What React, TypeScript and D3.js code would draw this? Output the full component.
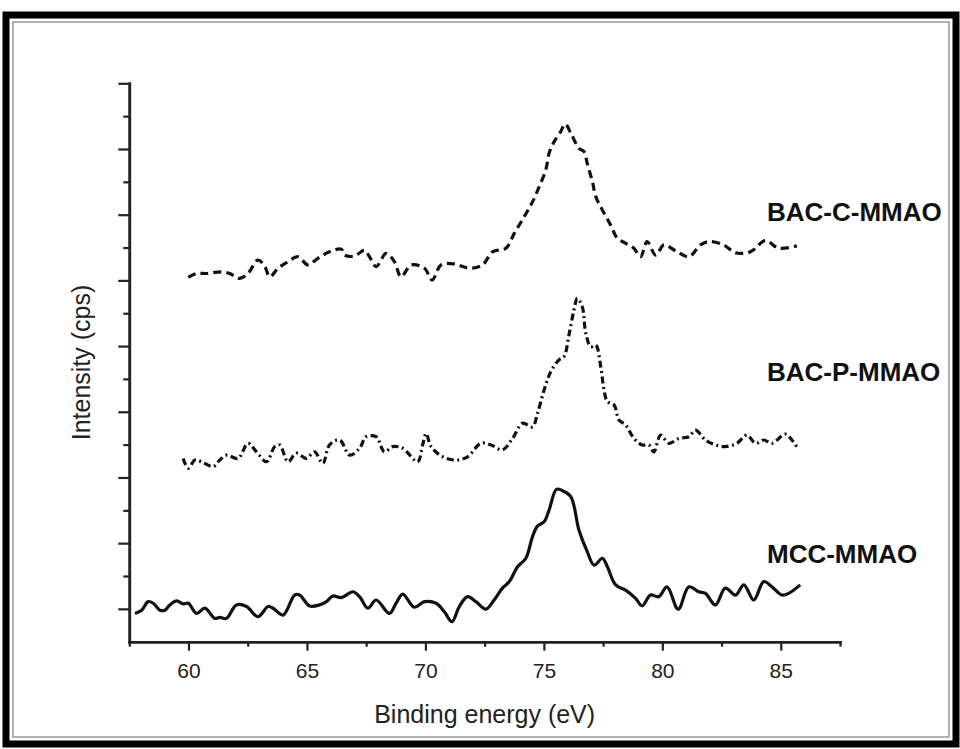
import React, { useEffect, useRef } from "react";
import * as d3 from "d3";

// binding energy (eV) / intensity (arb. units, stacked offsets)
const mccEnergy = [57.74, 58.02, 58.3, 58.51, 58.79, 59.0, 59.21, 59.5, 59.77, 59.99, 60.34, 60.69, 61.11, 61.32, 61.6, 62.02, 62.45, 62.93, 63.36, 63.57, 63.99, 64.48, 64.69, 65.11, 65.53, 65.82, 66.09, 66.45, 66.94, 67.22, 67.57, 67.92, 68.48, 68.76, 69.04, 69.53, 69.96, 70.45, 70.8, 71.12, 71.43, 71.78, 72.13, 72.55, 72.9, 73.25, 73.54, 73.89, 74.24, 74.52, 74.73, 75.01, 75.22, 75.53, 75.78, 76.14, 76.48, 76.83, 77.12, 77.47, 77.68, 78.03, 78.45, 78.87, 79.15, 79.5, 79.85, 80.2, 80.67, 81.12, 81.54, 81.82, 82.24, 82.66, 83.09, 83.44, 83.86, 84.28, 84.63, 85.05, 85.33, 85.82];
const mccIntensity = [0.86, 0.96, 1.22, 1.17, 0.96, 0.96, 1.12, 1.24, 1.15, 1.17, 0.86, 1.02, 0.71, 0.74, 0.71, 1.12, 1.07, 0.76, 1.07, 1.02, 0.81, 1.42, 1.42, 1.09, 1.12, 1.22, 1.39, 1.34, 1.52, 1.37, 1.02, 1.27, 0.86, 1.17, 1.45, 1.05, 1.22, 1.17, 0.91, 0.61, 1.07, 1.37, 1.22, 0.99, 1.27, 1.63, 1.83, 2.28, 2.54, 3.2, 3.52, 3.65, 4.01, 4.64, 4.6, 4.41, 3.4, 2.74, 2.33, 2.54, 2.28, 1.73, 1.57, 1.32, 1.09, 1.42, 1.37, 1.67, 0.99, 1.67, 1.52, 1.47, 1.12, 1.63, 1.42, 1.73, 1.27, 1.83, 1.67, 1.42, 1.47, 1.73];

const bacPEnergy = [59.77, 59.99, 60.27, 60.55, 61.04, 61.32, 61.6, 62.09, 62.51, 62.87, 63.29, 63.64, 63.85, 64.2, 64.55, 64.97, 65.32, 65.67, 65.95, 66.38, 66.8, 67.22, 67.5, 67.92, 68.27, 68.62, 69.04, 69.67, 69.88, 70.03, 70.24, 70.73, 71.29, 71.78, 72.34, 72.77, 73.25, 73.68, 74.1, 74.52, 74.73, 75.01, 75.29, 75.64, 75.85, 76.06, 76.27, 76.41, 76.62, 76.77, 76.98, 77.19, 77.4, 77.54, 77.68, 77.96, 78.17, 78.45, 78.8, 79.15, 79.43, 79.64, 79.93, 80.28, 80.7, 81.12, 81.4, 81.82, 82.24, 82.66, 83.15, 83.57, 83.93, 84.28, 84.63, 85.19, 85.47, 85.75];
const bacPIntensity = [5.58, 5.28, 5.53, 5.48, 5.33, 5.53, 5.68, 5.58, 6.04, 5.78, 5.48, 5.94, 5.99, 5.48, 5.74, 5.58, 5.78, 5.43, 5.99, 6.14, 5.68, 5.89, 6.24, 6.24, 5.78, 5.94, 5.89, 5.48, 5.99, 6.34, 5.94, 5.63, 5.53, 5.63, 6.04, 5.99, 5.84, 6.19, 6.65, 6.54, 6.95, 7.66, 8.22, 8.58, 8.68, 9.34, 10.1, 10.45, 10.2, 9.39, 8.98, 9.03, 8.37, 7.66, 7.31, 7.21, 6.75, 6.6, 6.19, 5.99, 5.99, 5.78, 6.29, 6.04, 6.19, 6.24, 6.44, 6.14, 5.99, 5.94, 6.04, 6.29, 6.04, 6.14, 6.04, 6.32, 6.14, 5.84];

const bacCEnergy = [59.99, 60.34, 60.76, 61.39, 61.74, 62.16, 62.51, 62.93, 63.22, 63.43, 63.78, 64.2, 64.62, 65.04, 65.46, 65.95, 66.45, 66.59, 67.01, 67.43, 67.64, 67.92, 68.34, 68.69, 68.97, 69.4, 69.96, 70.28, 70.66, 71.22, 71.85, 72.41, 72.83, 73.4, 73.75, 74.17, 74.52, 74.8, 75.08, 75.22, 75.43, 75.71, 75.9, 76.14, 76.48, 76.7, 76.83, 77.05, 77.19, 77.47, 77.82, 78.1, 78.45, 78.8, 79.08, 79.36, 79.72, 80.07, 80.56, 81.12, 81.61, 81.96, 82.59, 83.09, 83.72, 84.35, 84.91, 85.68];
const bacCIntensity = [11.09, 11.21, 11.21, 11.26, 11.21, 11.06, 11.21, 11.62, 11.42, 11.11, 11.37, 11.57, 11.72, 11.47, 11.67, 11.87, 11.95, 11.77, 11.74, 11.92, 11.72, 11.42, 11.82, 11.57, 11.11, 11.47, 11.37, 11.01, 11.47, 11.5, 11.37, 11.47, 11.87, 11.98, 12.43, 12.94, 13.39, 13.85, 14.36, 14.87, 15.22, 15.53, 15.76, 15.48, 15.02, 14.92, 14.56, 14.0, 13.55, 13.14, 12.68, 12.28, 12.13, 11.98, 11.72, 12.18, 11.77, 12.08, 11.9, 11.72, 12.08, 12.18, 12.08, 11.84, 11.87, 12.21, 11.98, 12.05];

const seriesNames = ["MCC-MMAO", "BAC-P-MMAO", "BAC-C-MMAO"];
const labelLevels = [2.4, 7.95, 12.8];

const xMajorTicks = [60, 65, 70, 75, 80, 85];
const xMinorTicks = [57.5, 62.5, 67.5, 72.5, 77.5, 82.5, 87.5];
const yMajorTicks = [1, 3, 5, 7, 9, 11, 13, 15, 17];
const yMinorTicks = [2, 4, 6, 8, 10, 12, 14, 16];

const App = () => {
  const ref = useRef<HTMLDivElement>(null);

  var width = 960,
    height = 749,
    left = 129.3,
    right = 840,
    top = 83.3,
    bottom = 641.7,
    font = "'Liberation Sans', Arial, sans-serif",
    x = d3.scaleLinear().domain([57.5, 87.5]).range([left, right]),
    y = d3.scaleLinear().domain([0, 17]).range([bottom, top]);

  useEffect(() => {
    const root = d3.select(ref.current);
    root.selectAll("*").remove();
    const svg = root
      .append("svg")
      .attr("width", width)
      .attr("height", height)
      .style("display", "block")
      .style("background", "#fff");

    renderFrame(svg);
    renderAxis(svg);
    renderLines(svg);
  }, []);

  const renderFrame = svg => {
    svg
      .append("rect")
      .attr("x", 6)
      .attr("y", 15)
      .attr("width", 950)
      .attr("height", 729)
      .attr("fill", "none")
      .attr("stroke", "#000")
      .attr("stroke-width", 7);
    svg
      .append("rect")
      .attr("x", 13)
      .attr("y", 22)
      .attr("width", 936)
      .attr("height", 715)
      .attr("fill", "none")
      .attr("stroke", "#9a9a9a")
      .attr("stroke-width", 1.5);
  };

  const renderAxis = svg => {
    const xMinor = d3.axisBottom(x).tickValues(xMinorTicks).tickSize(5).tickSizeOuter(0).tickFormat(() => "");
    const xMajor = d3.axisBottom(x).tickValues(xMajorTicks).tickSize(9).tickSizeOuter(0).tickPadding(12);
    const yMinor = d3.axisLeft(y).tickValues(yMinorTicks).tickSize(6).tickSizeOuter(0).tickFormat(() => "");
    const yMajor = d3.axisLeft(y).tickValues(yMajorTicks).tickSize(11).tickSizeOuter(0).tickFormat(() => "");

    const gx1 = svg.append("g").attr("transform", "translate(0," + bottom + ")").call(xMinor);
    const gx2 = svg.append("g").attr("transform", "translate(0," + bottom + ")").call(xMajor);
    const gy1 = svg.append("g").attr("transform", "translate(" + left + ",0)").call(yMinor);
    const gy2 = svg.append("g").attr("transform", "translate(" + left + ",0)").call(yMajor);

    [gx1, gx2, gy1, gy2].forEach(g => {
      g.selectAll("line").attr("stroke", "#222").attr("stroke-width", 2.2);
      g.select(".domain").attr("stroke", "#222").attr("stroke-width", 2.6).attr("stroke-linecap", "square");
      g.selectAll("text").attr("fill", "#222").style("font-family", font).style("font-size", "21px");
    });

    svg
      .append("text")
      .attr("x", (left + right) / 2)
      .attr("y", 723)
      .attr("text-anchor", "middle")
      .style("font-family", font)
      .style("font-size", "25px")
      .attr("fill", "#222")
      .text("Binding energy (eV)");

    svg
      .append("text")
      .attr("transform", "translate(90," + (top + bottom) / 2 + ") rotate(-90)")
      .attr("text-anchor", "middle")
      .style("font-family", font)
      .style("font-size", "25px")
      .attr("fill", "#222")
      .text("Intensity (cps)");
  };

  const renderLines = svg => {
    var line = d3
      .line()
      .x(d => x(d[0]))
      .y(d => y(d[1]))
      .curve(d3.curveCatmullRom.alpha(0.5));

    const series = [
      { e: mccEnergy, v: mccIntensity, dash: null },
      { e: bacPEnergy, v: bacPIntensity, dash: "7,3.5,2,3.5" },
      { e: bacCEnergy, v: bacCIntensity, dash: "8,5" }
    ];

    series.forEach((s, i) => {
      const pts = s.e.map((e, j) => [e, s.v[j]]);
      svg
        .append("path")
        .attr("d", line(pts))
        .attr("fill", "none")
        .attr("stroke", "#111")
        .attr("stroke-width", 3.2)
        .attr("stroke-linejoin", "round")
        .attr("stroke-dasharray", s.dash);

      svg
        .append("text")
        .attr("x", 767)
        .attr("y", y(labelLevels[i]))
        .style("font-family", font)
        .style("font-weight", "bold")
        .style("font-size", "26px")
        .attr("fill", "#111")
        .text(seriesNames[i]);
    });
  };

  return (
    <div style={{ position: "absolute", left: 0, top: 0 }}>
      <div ref={ref}></div>
    </div>
  );
};

export default App;
